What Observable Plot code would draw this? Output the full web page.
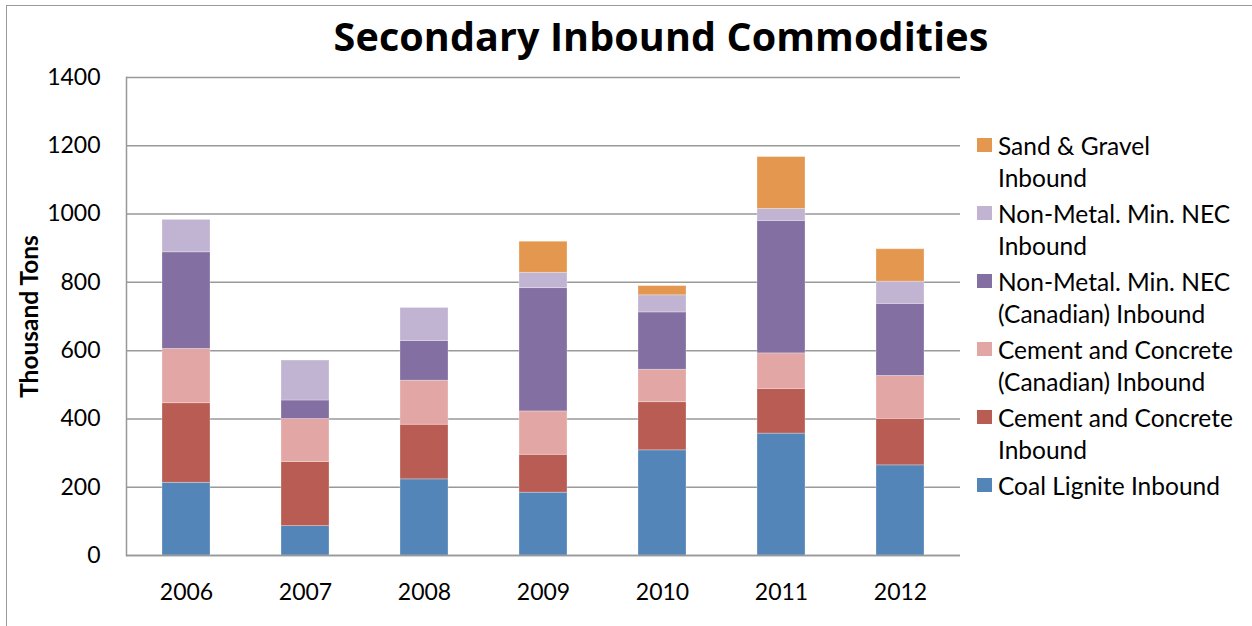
<!DOCTYPE html>
<html>
<head>
<meta charset="utf-8">
<script src="https://cdn.jsdelivr.net/npm/d3@7"></script>
<script src="https://cdn.jsdelivr.net/npm/@observablehq/plot@0.6"></script>
<style>
  html, body { margin: 0; padding: 0; background: #fff; }
  #wrap { position: relative; width: 1252px; height: 626px; overflow: hidden; font-family: Lato, "Open Sans", sans-serif; }
  #border { position: absolute; left: 6px; top: 5px; width: 1400px; height: 800px; border: 1.5px solid #9a9a9a; box-sizing: border-box; }
  #title { position: absolute; left: 0; width: 1322px; top: 16.5px; line-height: 1; text-align: center; font-family: "Open Sans", Lato, sans-serif; font-weight: bold; font-size: 39.5px; letter-spacing: 0.1px; color: #000; white-space: nowrap; }
  #legend { position: absolute; left: 977px; top: 129.5px; font-size: 24.5px; color: #000; }
  .item { display: flex; align-items: flex-start; height: 68px; }
  .sw { width: 15px; height: 14px; margin-top: 8.5px; margin-right: 6px; flex: none; }
  .lab { line-height: 32.5px; white-space: pre; }
  svg { position: absolute; left: 0; top: 0; }
</style>
</head>
<body>
<div id="wrap">
  <div id="border"></div>
  <div id="title">Secondary Inbound Commodities</div>
  <div id="legend"></div>
</div>
<script>
const years = ["2006", "2007", "2008", "2009", "2010", "2011", "2012"];
const series = [
  "Coal Lignite Inbound",
  "Cement and Concrete Inbound",
  "Cement and Concrete (Canadian) Inbound",
  "Non-Metal. Min. NEC (Canadian) Inbound",
  "Non-Metal. Min. NEC Inbound",
  "Sand & Gravel Inbound"
];
const legendLabels = [
  "Coal Lignite Inbound",
  "Cement and Concrete\nInbound",
  "Cement and Concrete\n(Canadian) Inbound",
  "Non-Metal. Min. NEC\n(Canadian) Inbound",
  "Non-Metal. Min. NEC\nInbound",
  "Sand & Gravel\nInbound"
];
const colors = ["#5485b8", "#b95c54", "#e2a7a5", "#846fa2", "#c1b3d2", "#e4984f"];

const coalLignite      = [213, 86, 223, 184, 308, 357, 264];
const cementConcrete   = [233, 188, 160, 111, 141, 131, 136];
const cementCanadian   = [159, 126, 129, 127, 95, 104, 126];
const nonMetalCanadian = [283, 54, 116, 361, 168, 388, 211];
const nonMetal         = [95, 117, 97, 45, 50, 35, 65];
const sandGravel       = [0, 0, 0, 91, 27, 152, 95];
const yTicks = [0, 200, 400, 600, 800, 1000, 1200, 1400];

const valueArrays = [coalLignite, cementConcrete, cementCanadian, nonMetalCanadian, nonMetal, sandGravel];
const data = [];
series.forEach((s, i) => years.forEach((y, j) => data.push({year: y, series: s, value: valueArrays[i][j]})));

const chart = Plot.plot({
  width: 1252,
  height: 626,
  marginLeft: 126,
  marginRight: 292,
  marginTop: 77,
  marginBottom: 71,
  style: {fontFamily: "Lato, 'Open Sans', sans-serif", fontSize: "23px", color: "#000", background: "transparent"},
  x: {domain: years, paddingInner: 0.6, paddingOuter: 0.3, label: null},
  y: {domain: [0, 1400], label: null},
  color: {domain: series, range: colors},
  marks: [
    Plot.gridY(yTicks, {stroke: "#999", strokeOpacity: 1, strokeWidth: 1.5}),
    Plot.barY(data, {x: "year", y: "value", fill: "series", order: series, stroke: "#fff", strokeOpacity: 0.35, strokeWidth: 0.8}),
    Plot.axisY(yTicks, {tickSize: 0, tickPadding: 26, fontSize: 23, tickFormat: d => String(d), label: null}),
    Plot.axisX({tickSize: 0, tickPadding: 28.5, fontSize: 23, label: null}),
    Plot.ruleY([0], {stroke: "#999", strokeWidth: 1.5}),
    Plot.frame({anchor: "left", stroke: "#999", strokeWidth: 1.5}),
    Plot.text(["Thousand Tons"], {frameAnchor: "left", dx: -96, rotate: -90, textAnchor: "middle", fontWeight: "bold", fontSize: 24.5})
  ]
});
document.getElementById("wrap").appendChild(chart);

const legend = document.getElementById("legend");
for (let i = series.length - 1; i >= 0; i--) {
  const item = document.createElement("div");
  item.className = "item";
  const sw = document.createElement("div");
  sw.className = "sw";
  sw.style.background = colors[i];
  const lab = document.createElement("div");
  lab.className = "lab";
  lab.textContent = legendLabels[i];
  item.appendChild(sw);
  item.appendChild(lab);
  legend.appendChild(item);
}
</script>
</body>
</html>
